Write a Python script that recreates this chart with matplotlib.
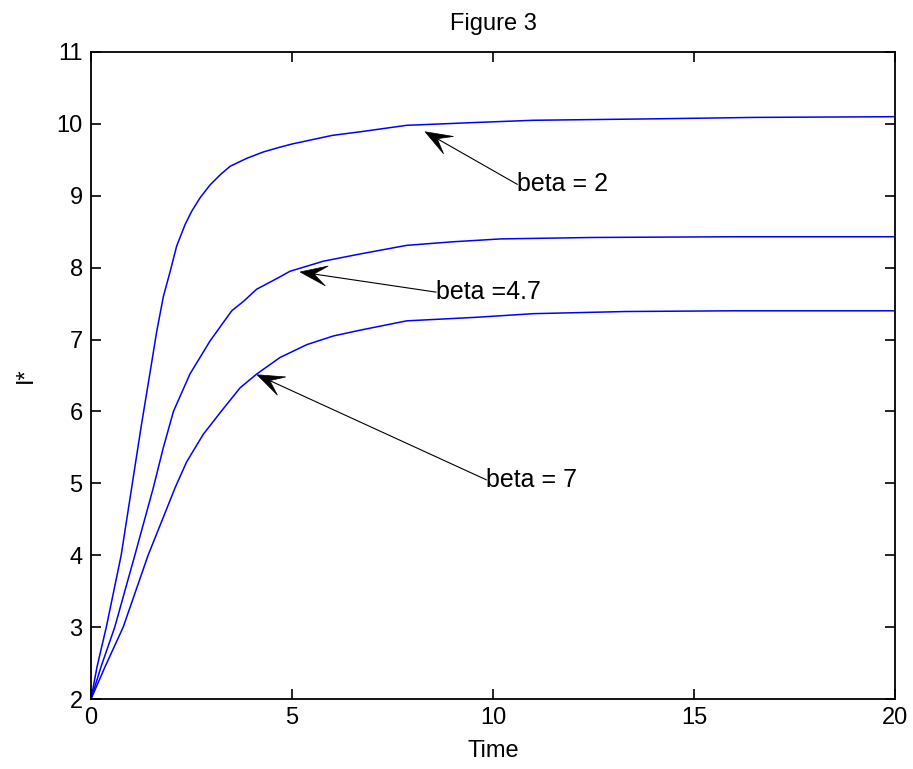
import matplotlib
matplotlib.use('Agg')
import numpy as np
import matplotlib.pyplot as plt
from matplotlib.patches import Polygon

plt.rcParams['font.family'] = ['Liberation Sans', 'DejaVu Sans']

# I* over time for three beta values
t_b2 = [0, 0.15, 0.38, 0.75, 1.0, 1.25, 1.5, 1.63, 1.8, 1.97, 2.13, 2.34, 2.5, 2.71, 2.96,
        3.21, 3.46, 3.87, 4.29, 4.66, 5.0, 5.5, 6.0, 6.7, 7.85, 9.6, 11, 14, 16.5, 20]
i_b2 = [2, 2.45, 3, 4, 4.9, 5.8, 6.65, 7.1, 7.6, 7.95, 8.3, 8.6, 8.78, 8.97, 9.15,
        9.29, 9.41, 9.52, 9.61, 9.67, 9.72, 9.78, 9.84, 9.89, 9.98, 10.02, 10.05, 10.07, 10.09, 10.10]

t_b47 = [0, 0.25, 0.59, 1.09, 1.55, 1.8, 2.05, 2.46, 2.96, 3.5, 3.79, 4.12, 4.66, 4.95,
         5.78, 6.69, 7.85, 9.0, 10.2, 12.5, 16, 20]
i_b47 = [2, 2.45, 3, 4, 4.94, 5.5, 6.0, 6.52, 6.98, 7.40, 7.53, 7.70, 7.86, 7.95,
         8.09, 8.19, 8.31, 8.36, 8.40, 8.42, 8.43, 8.43]

t_b7 = [0, 0.35, 0.8, 1.42, 2.1, 2.38, 2.79, 3.25, 3.71, 4.12, 4.70, 5.37, 6.03, 6.69,
        7.85, 9.6, 11, 13.3, 16, 20]
i_b7 = [2, 2.45, 3, 4, 4.95, 5.3, 5.68, 6.01, 6.33, 6.52, 6.75, 6.93, 7.05, 7.13,
        7.26, 7.31, 7.36, 7.39, 7.40, 7.40]

labels = ['beta = 2', 'beta =4.7', 'beta = 7']
tips = [(8.31, 9.89), (5.2, 7.94), (4.13, 6.51)]
texts = [(10.6, 9.16), (8.58, 7.66), (9.83, 5.05)]

fig = plt.figure(figsize=(9.13, 7.69), dpi=100)
ax = fig.add_axes([0.0997, 0.091, 0.8806, 0.8414])

for t, i in [(t_b2, i_b2), (t_b47, i_b47), (t_b7, i_b7)]:
    ax.plot(t, i, color='#0000ff', lw=1.1)

ax.set_xlim(0, 20)
ax.set_ylim(2, 11)

# matlab-like notched arrow heads, built in pixel space
inv = ax.transData.inverted()
for lab, tip, txt in zip(labels, tips, texts):
    ax.text(txt[0], txt[1], lab, ha='left', va='center', fontsize=18)
    p_tip = ax.transData.transform(tip)
    p_tail = ax.transData.transform(txt)
    u = (p_tip - p_tail) / np.hypot(*(p_tip - p_tail))
    n = np.array([-u[1], u[0]])
    head = [p_tip, p_tip - 27 * u + 10 * n, p_tip - 14 * u, p_tip - 27 * u - 10 * n]
    ax.add_patch(Polygon(inv.transform(head), closed=True, fc='k', ec='k', lw=0.5))
    shaft = inv.transform([p_tail, p_tip - 14 * u])
    ax.plot(shaft[:, 0], shaft[:, 1], color='k', lw=0.8)

ax.set_xticks([0, 5, 10, 15, 20])
ax.set_yticks(range(2, 12))
ax.tick_params(direction='in', length=7, width=1.2, top=True, right=True,
               labelsize=17, pad=6)
for s in ax.spines.values():
    s.set_linewidth(1.3)

ax.set_xlabel('Time', fontsize=17, labelpad=8)
ax.set_ylabel('I*', fontsize=17, labelpad=14)
ax.set_title('Figure 3', fontsize=17, pad=16)

fig.savefig('out.png', dpi=100)
